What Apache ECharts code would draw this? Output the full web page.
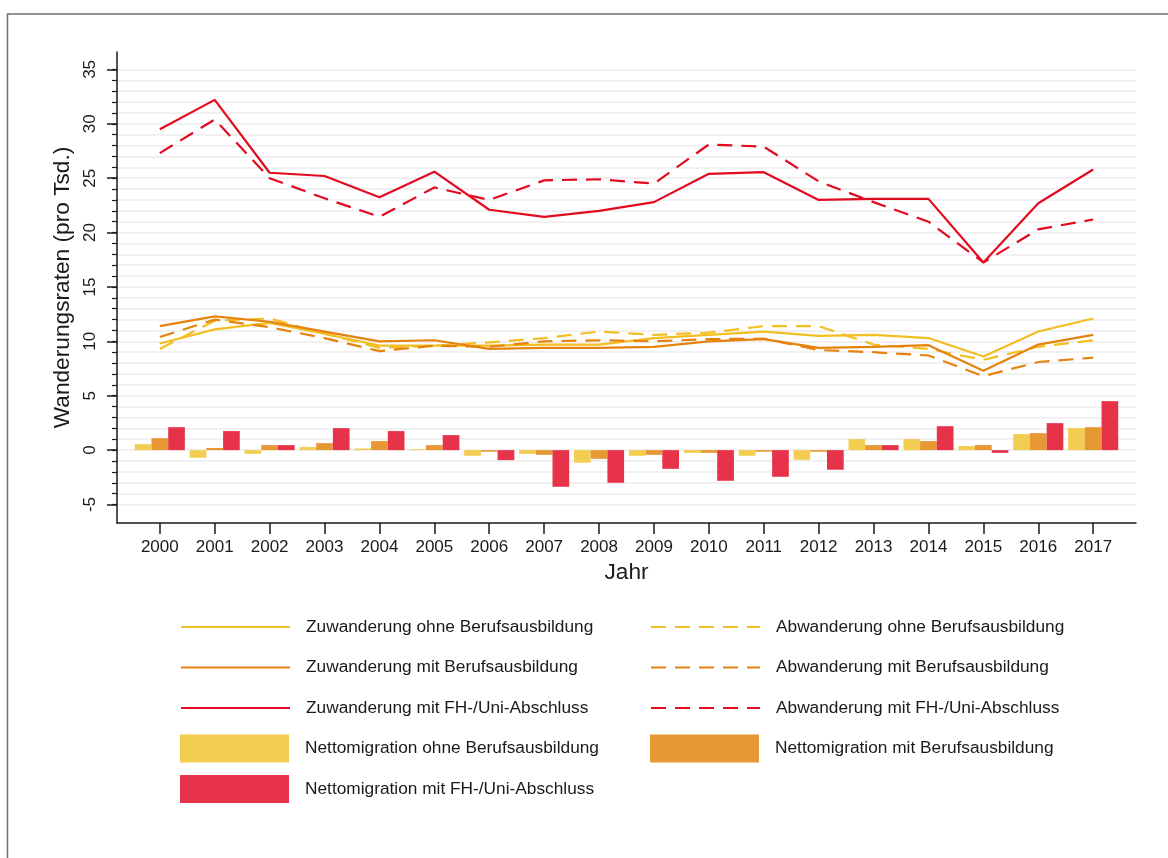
<!DOCTYPE html>
<html>
<head>
<meta charset="utf-8">
<script src="https://cdn.jsdelivr.net/npm/echarts@6/dist/echarts.min.js"></script>
<style>
  html, body { margin: 0; padding: 0; background: #fff; }
  #chart { width: 1168px; height: 858px; }
</style>
</head>
<body>
<div id="chart"></div>
<script>
// Jahre
var years = [2000, 2001, 2002, 2003, 2004, 2005, 2006, 2007, 2008, 2009, 2010, 2011, 2012, 2013, 2014, 2015, 2016, 2017];

// Zu- und Abwanderungsraten (pro Tsd.)
var zuOhne = [9.8, 11.1, 11.7, 10.7, 9.6, 9.6, 9.6, 9.7, 9.7, 10.3, 10.6, 10.9, 10.5, 10.6, 10.3, 8.6, 10.9, 12.1];
var abOhne = [9.3, 11.9, 12.1, 10.7, 9.4, 9.6, 9.9, 10.3, 10.9, 10.6, 10.8, 11.4, 11.4, 9.7, 9.3, 8.3, 9.5, 10.1];
var zuMit = [11.4, 12.3, 11.8, 10.9, 10.0, 10.1, 9.3, 9.4, 9.4, 9.5, 10.0, 10.2, 9.4, 9.5, 9.65, 7.3, 9.7, 10.6];
var abMit = [10.4, 12.0, 11.3, 10.3, 9.1, 9.6, 9.5, 10.0, 10.1, 10.0, 10.2, 10.25, 9.2, 9.0, 8.7, 6.8, 8.1, 8.5];
var zuFH = [29.5, 32.2, 25.5, 25.2, 23.25, 25.6, 22.1, 21.45, 22.0, 22.8, 25.4, 25.55, 23.0, 23.1, 23.1, 17.25, 22.7, 25.8];
var abFH = [27.3, 30.4, 25.0, 23.15, 21.45, 24.15, 23.0, 24.8, 24.9, 24.5, 28.1, 27.9, 24.7, 22.8, 21.0, 17.25, 20.3, 21.2];

// Nettomigration
var nettoOhne = [0.55, -0.7, -0.34, 0.28, 0.15, 0.08, -0.52, -0.34, -1.16, -0.52, -0.25, -0.52, -0.89, 1.01, 1.01, 0.37, 1.47, 2.02];
var nettoMit = [1.1, 0.2, 0.46, 0.64, 0.83, 0.46, -0.15, -0.43, -0.8, -0.43, -0.25, -0.15, -0.15, 0.46, 0.83, 0.46, 1.56, 2.11];
var nettoFH = [2.11, 1.75, 0.46, 2.02, 1.75, 1.38, -0.92, -3.37, -3.0, -1.72, -2.82, -2.45, -1.8, 0.46, 2.2, -0.25, 2.48, 4.5];

// Achsen
var yLabels = [-5, 0, 5, 10, 15, 20, 25, 30, 35];
var yMinorTicks = [];
for (var v = -5; v <= 35; v++) yMinorTicks.push(v);

var font = "'Liberation Sans', Arial, sans-serif";
var colYellow = "#F2BE22", colOrange = "#E6820E", colRed = "#E30A1F";
var barYellow = "#F2CD4F", barOrange = "#E89735", barRed = "#E6334A";

function pairs(arr) {
  return arr.map(function (val, i) { return [years[i], val]; });
}

function lineSeries(name, data, color, dashed) {
  return {
    name: name,
    type: "line",
    data: pairs(data),
    symbol: "none",
    silent: true,
    z: 3,
    lineStyle: { color: color, width: 2.2, type: dashed ? [15, 9] : "solid" },
    itemStyle: { color: color }
  };
}

function barSeries(name, data, color) {
  return {
    name: name,
    type: "bar",
    data: pairs(data),
    barWidth: 16.7,
    barGap: "0%",
    silent: true,
    z: 2,
    itemStyle: { color: color }
  };
}

// eine Legende pro Zeile, damit die Abstände gleich bleiben
function legendRow(name, left, centerY, isBar) {
  var item = isBar
    ? { name: name, icon: "rect" }
    : { name: name, itemStyle: { color: "rgba(0,0,0,0)", borderWidth: 0 } };
  return {
    orient: "vertical",
    left: left,
    top: centerY - (isBar ? 19 : 16.2) + 1,
    itemWidth: 109,
    itemHeight: 28,
    selectedMode: false,
    textStyle: { fontSize: 17.3, color: "#1a1a1a", padding: [0, 0, 0, 11] },
    data: [item]
  };
}

var chart = echarts.init(document.getElementById("chart"));
chart.setOption({
  animation: false,
  textStyle: { fontFamily: font },
  graphic: [{
    type: "rect",
    shape: { x: 7.5, y: 14, width: 1200, height: 900 },
    style: { fill: null, stroke: "#707070", lineWidth: 1.5 },
    silent: true
  }],
  grid: { left: 117, right: 32, top: 52, bottom: 335 },
  legend: [
    legendRow("Zuwanderung ohne Berufsausbildung", 175, 626, false),
    legendRow("Zuwanderung mit Berufsausbildung", 175, 666.5, false),
    legendRow("Zuwanderung mit FH-/Uni-Abschluss", 175, 707, false),
    legendRow("Nettomigration ohne Berufsausbildung", 175, 747.5, true),
    legendRow("Nettomigration mit FH-/Uni-Abschluss", 175, 788, true),
    legendRow("Abwanderung ohne Berufsausbildung", 645, 626, false),
    legendRow("Abwanderung mit Berufsausbildung", 645, 666.5, false),
    legendRow("Abwanderung mit FH-/Uni-Abschluss", 645, 707, false),
    legendRow("Nettomigration mit Berufsausbildung", 645, 747.5, true)
  ],
  xAxis: {
    type: "value",
    min: 1999.22,
    max: 2017.78,
    name: "Jahr",
    nameLocation: "middle",
    nameGap: 34,
    nameTextStyle: { fontSize: 22.7, color: "#1a1a1a" },
    axisLine: { show: true, onZero: false, lineStyle: { color: "#1a1a1a", width: 1.5 } },
    axisTick: { show: true, length: 11, customValues: years, lineStyle: { color: "#1a1a1a", width: 1.5 } },
    axisLabel: {
      customValues: years, fontSize: 17, color: "#1a1a1a", margin: 16,
      formatter: function (val) { return String(Math.round(val)); }
    },
    splitLine: { show: false }
  },
  yAxis: [
    {
      type: "value",
      min: -6.7,
      max: 36.6,
      position: "left",
      name: "Wanderungsraten (pro Tsd.)",
      nameLocation: "middle",
      nameGap: 37,
      nameRotate: 90,
      nameTextStyle: { fontSize: 22.7, color: "#1a1a1a" },
      axisLine: { show: true, onZero: false, lineStyle: { color: "#1a1a1a", width: 1.5 } },
      axisTick: { show: true, length: 5, customValues: yMinorTicks, lineStyle: { color: "#1a1a1a", width: 1.2 } },
      axisLabel: { customValues: yLabels, rotate: 90, fontSize: 17, color: "#1a1a1a", margin: 18 },
      splitLine: { show: true, lineStyle: { color: "#EDEDED", width: 1.5 } }
    },
    {
      type: "value",
      min: -6.7,
      max: 36.6,
      position: "left",
      offset: 0,
      axisLine: { show: false },
      axisTick: { show: true, length: 10, customValues: yLabels, lineStyle: { color: "#1a1a1a", width: 1.5 } },
      axisLabel: { show: false },
      splitLine: { show: false }
    }
  ],
  series: [
    barSeries("Nettomigration ohne Berufsausbildung", nettoOhne, barYellow),
    barSeries("Nettomigration mit Berufsausbildung", nettoMit, barOrange),
    barSeries("Nettomigration mit FH-/Uni-Abschluss", nettoFH, barRed),
    lineSeries("Zuwanderung ohne Berufsausbildung", zuOhne, colYellow, false),
    lineSeries("Abwanderung ohne Berufsausbildung", abOhne, colYellow, true),
    lineSeries("Zuwanderung mit Berufsausbildung", zuMit, colOrange, false),
    lineSeries("Abwanderung mit Berufsausbildung", abMit, colOrange, true),
    lineSeries("Zuwanderung mit FH-/Uni-Abschluss", zuFH, colRed, false),
    lineSeries("Abwanderung mit FH-/Uni-Abschluss", abFH, colRed, true)
  ]
});
</script>
</body>
</html>
